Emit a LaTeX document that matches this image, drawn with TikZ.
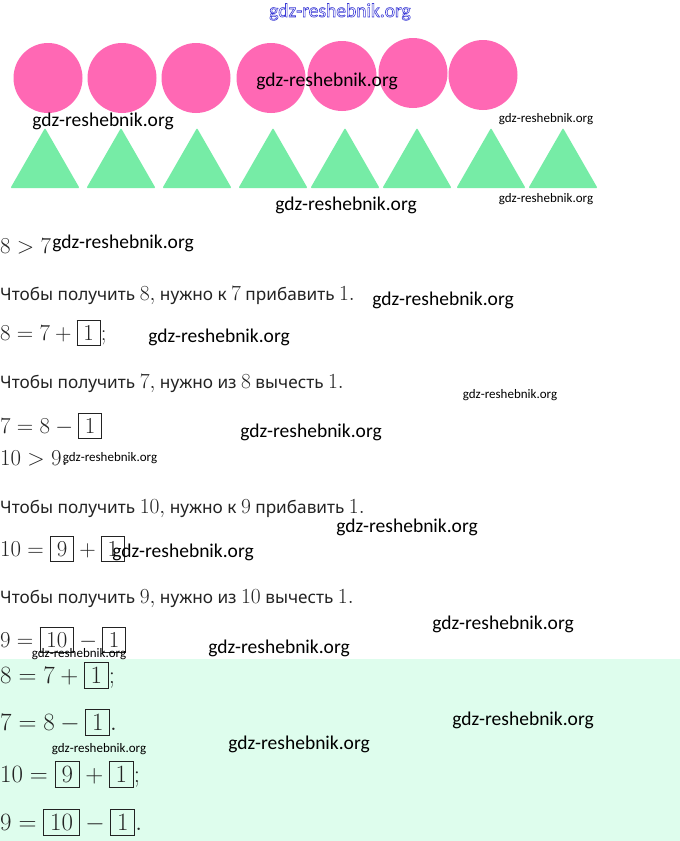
\RequirePackage{fix-cm}
\documentclass[tikz,border=0pt]{standalone}
\usepackage[no-math]{fontspec}
\setmainfont{Noto Sans}
\newfontfamily\wmfont{Carlito}
\usepackage{tikz}
\definecolor{pinkc}{RGB}{255,104,180}
\definecolor{greenc}{RGB}{118,236,166}
\definecolor{mintc}{RGB}{222,253,237}
\definecolor{textc}{RGB}{35,35,35}
\definecolor{bluec}{RGB}{60,60,215}
\setlength{\fboxsep}{4.5pt}
\setlength{\fboxrule}{0.8pt}
\newcommand{\bx}[1]{\fbox{\kern1.5pt$#1$\kern1.5pt}}
\newcommand{\nm}[1]{{\fontsize{21.5}{24}\selectfont$#1$}}
\newcommand{\outl}[1]{\special{pdf:literal direct 1 Tr 0.6 w}#1\special{pdf:literal direct 0 Tr}}
\begin{document}
\begin{tikzpicture}[x=1pt, y=-1pt,
    mathline/.style={anchor=base west, inner sep=0pt, text=textc, font=\fontsize{22.8}{26}\selectfont},
    bigline/.style={mathline, font=\fontsize{24.9}{28}\selectfont},
    wordline/.style={anchor=base west, inner sep=0pt, text=textc, font=\fontsize{17.2}{21}\selectfont},
    wm/.style={anchor=base, inner sep=0pt, text=black, font=\wmfont\fontsize{19.5}{22}\selectfont},
    wmsmall/.style={wm, font=\wmfont\fontsize{13}{15}\selectfont}]
        \useasboundingbox (0,0) rectangle (680,841);
        \fill[white] (0,0) rectangle (680,841);
        \fill[mintc] (0,659) rectangle (680,841);
        % circles and triangles
        \foreach \x/\y in {48/78, 122/78, 196/78, 271/78, 342/76, 413/73, 483/75}
            \fill[pinkc] (\x,\y) ellipse [x radius=34.5, y radius=35];
        \foreach \x in {45, 121, 197, 273, 345, 417, 491, 563}
            \fill[greenc, rounded corners=1pt] (\x-34.5,188) -- (\x,128) -- (\x+34.5,188) -- cycle;
        % comparisons
        \node[mathline] (gt1) at (0,253) {$8>7$};
        \node[wordline] (add1) at (0,300) {Чтобы получить \nm{8,} нужно к \nm{7} прибавить \nm{1.}};
        \node[mathline] (eqa1) at (0,340) {$8=7+\bx{1};$};
        \node[wordline] (sub1) at (0,388) {Чтобы получить \nm{7,} нужно из \nm{8} вычесть \nm{1.}};
        \node[mathline] (eqs1) at (0,433) {$7=8-\bx{1}$};
        \node[mathline] (gt2) at (0,465) {$10>9.$};
        \node[wordline] (add2) at (0,513) {Чтобы получить \nm{10,} нужно к \nm{9} прибавить \nm{1.}};
        \node[mathline] (eqa2) at (0,556) {$10=\bx{9}+\bx{1}$};
        \node[wordline] (sub2) at (0,603) {Чтобы получить \nm{9,} нужно из \nm{10} вычесть \nm{1.}};
        \node[mathline] (eqs2) at (0,647) {$9=\bx{10}-\bx{1}$};
        % answer
        \node[bigline] (ans1) at (0,683) {$8=7+\bx{1};$};
        \node[bigline] (ans2) at (0,730) {$7=8-\bx{1}.$};
        \node[bigline] (ans3) at (0,782) {$10=\bx{9}+\bx{1};$};
        \node[bigline] (ans4) at (0,830) {$9=\bx{10}-\bx{1}.$};
        % watermarks
        \node[wm, text=bluec] (wm0) at (340,17) {\outl{gdz-reshebnik.org}};
        \foreach \i/\x/\y in {1/327/86, 2/103/126, 3/346/210, 4/123/248, 5/443/305, 6/219/342,
                7/311/437, 8/407/532, 9/183/557, 10/503/629, 11/279/653, 12/523/725, 13/299/749}
            \node[wm] (wm\i) at (\x,\y) {gdz-reshebnik.org};
        \foreach \i/\x/\y in {1/546/122, 2/546/202, 3/510/398, 4/110/461, 5/79/657, 6/99/752}
            \node[wmsmall] (wms\i) at (\x,\y) {gdz-reshebnik.org};
    \end{tikzpicture}
\end{document}
